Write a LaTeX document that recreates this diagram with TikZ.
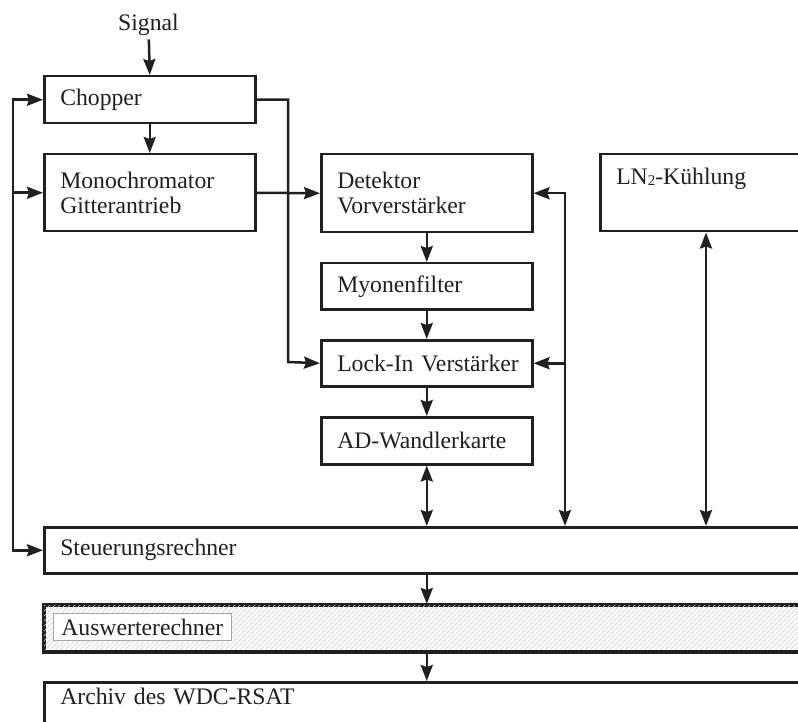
\documentclass[tikz,border=0pt]{standalone}
\usepackage{fontspec}
\setmainfont{Liberation Serif}
\usetikzlibrary{arrows.meta,calc}
\definecolor{ink}{RGB}{35,31,32}
\begin{document}
\begin{tikzpicture}[x=1pt,y=-1pt,
  every node/.style={font=\fontsize{23.7}{25}\selectfont, text=ink},
  blk/.style={draw=ink,line width=2.5pt,fill=white,anchor=north west,
    inner xsep=16pt,inner ysep=0pt,align=left},
  link/.style={draw=ink,line width=2.5pt},
  tip/.tip={Stealth[length=16pt,width=12pt,inset=2pt]},
  arr/.style={link,-tip},
  darr/.style={link,tip-tip},
  hatch/.style={draw=gray!40,line width=0.6pt},
]
\useasboundingbox (0,0) rectangle (798,722);
\clip (0,0) rectangle (798,722);

% upper optical chain
\node (sig) at (148.5,25) {Signal};
\node[blk,text width=179pt,minimum height=47pt] (chop) at (43,75) {Chopper};
\node[blk,text width=179pt,minimum height=77pt] (mono) at (43,153) {Monochromator\\Gitterantrieb};

% detector column
\node[blk,text width=179pt,minimum height=78pt] (det) at (320,153) {Detektor\\Vorverstärker};
\node[blk,text width=179pt,minimum height=46pt] (myon) at (320,262) {Myonenfilter};
\node[blk,text width=179pt,minimum height=46pt] (lock) at (320,339) {\mbox{Lock-In Verstärker}};
\node[blk,text width=179pt,minimum height=47pt] (ad) at (320,416) {AD-Wandlerkarte};

% cooling
\node[blk,text width=250pt,minimum height=77pt] (ln) at (599,153)
  {LN\raisebox{-1pt}{\fontsize{15}{15}\selectfont 2}-Kühlung\\\strut};

% computers
\node[blk,text width=800pt,minimum height=46pt] (steu) at (43,526) {Steuerungsrechner};
\node[blk,text width=800pt,minimum height=46pt] (ausw) at (43,604) {};
\begin{scope}
  \clip (ausw.north west) rectangle (ausw.south east);
  \foreach \i in {-50,-45,...,850}
    \draw[hatch] (\i,650) -- (\i+46,604);
\end{scope}
\draw[draw=ink,line width=2.5pt] (ausw.north west) rectangle (ausw.south east);
\node[draw=gray!70,line width=0.6pt,fill=white,anchor=west,inner xsep=8pt,
  inner ysep=0pt,minimum height=27pt] (awl) at (53,627) {Auswerterechner};
\node[blk,text width=800pt,inner ysep=5pt,text height=17pt,text depth=40pt] (arch) at (43,681)
  {Archiv des WDC-RSAT};

% routing points
\coordinate (L) at (13,549);
\coordinate (B) at (288,362);
\coordinate (R) at (565,0);
\coordinate (K) at (706,0);

% connectors
\draw[arr] (sig) -- (chop.north);
\draw[arr] (chop.south) -- (mono.north);
\draw[arr] (L) |- (chop.west);
\draw[arr] (L) |- (mono.west);
\draw[arr] (13,98.5) |- (steu.west);
\draw[arr] (chop.east) -| (B) -- (lock.west);
\draw[arr] (mono.east) -- (det.west);
\draw[arr] (det.south) -- (myon.north);
\draw[arr] (myon.south) -- (lock.north);
\draw[arr] (lock.south) -- (ad.north);
\draw[darr] (ad.south) -- (ad.south |- steu.north);
\draw[darr] (det.east) -| (R |- steu.north);
\draw[arr] (R |- lock.east) -- (lock.east);
\draw[darr] (K |- ln.south) -- (K |- steu.north);
\draw[arr] (ad.south |- steu.south) -- (ad.south |- ausw.north);
\draw[arr] (ad.south |- ausw.south) -- (ad.south |- arch.north);
\end{tikzpicture}
\end{document}
